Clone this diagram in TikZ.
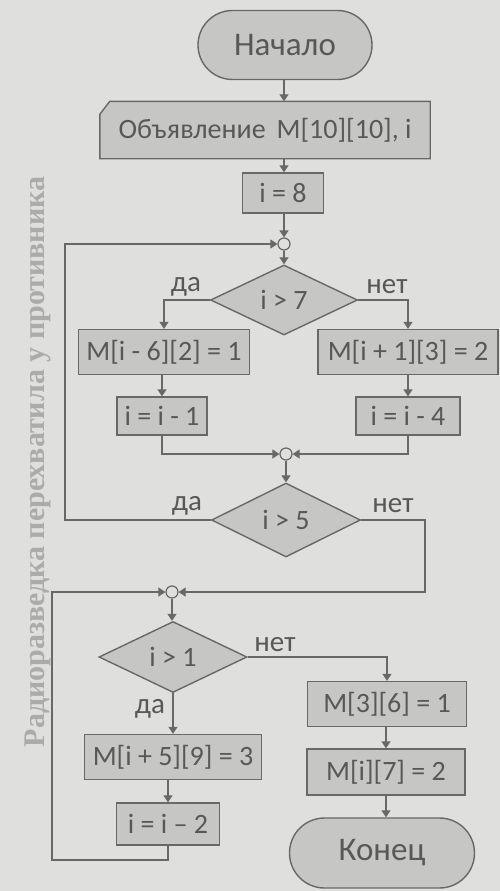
\documentclass[tikz,border=0pt]{standalone}
\usepackage{fontspec}
\setmainfont{Carlito}
\newfontfamily\sidefont{Liberation Serif}
\usetikzlibrary{arrows.meta,shapes.geometric,shapes.misc,backgrounds}
\definecolor{bgc}{HTML}{DFDFDD}
\definecolor{fillc}{HTML}{C6C6C4}
\definecolor{linec}{HTML}{686868}
\definecolor{textc}{HTML}{585858}
\definecolor{sidec}{HTML}{ABABAB}
\tikzset{
  >={Triangle[width=9pt,length=7pt]},
  base/.style={draw=linec, line width=1.4pt, fill=fillc, text=textc, inner sep=0pt,
    font=\fontsize{28}{28}\selectfont},
  procbox/.style={base, rectangle},
  termbox/.style={base, rounded rectangle, font=\fontsize{33}{33}\selectfont},
  decbox/.style={base, diamond, aspect=2.1},
  junc/.style={circle, draw=linec, line width=1.2pt, fill=bgc, minimum size=12pt, inner sep=0pt},
  conn/.style={draw=linec, line width=1.2pt},
  lbl/.style={text=textc, font=\fontsize{29}{29}\selectfont, inner sep=0pt},
}
\begin{document}
\begin{tikzpicture}[x=1pt,y=-1pt]
\begin{scope}[on background layer]
\fill[bgc] (0,0) rectangle (500,891);
\end{scope}
\useasboundingbox (0,0) rectangle (500,891);

% side text
\node[rotate=90, text=sidec, font=\sidefont\bfseries\fontsize{30}{30}\selectfont, inner sep=0pt] (side) at (38,462) {Радиоразведка перехватила у противника};

% nodes
\node[termbox, minimum width=174pt, minimum height=69pt] (start) at (285,45) {Начало};
\node[procbox, draw=none, fill=none, minimum width=329pt, minimum height=56pt] (decl) at (265,130) {Объявление\, M[10][10], i};
\begin{scope}[on background layer]
\filldraw[draw=linec, line width=1.4pt, fill=fillc]
  (decl.south west) -- ([yshift=-13pt]decl.north west) -- ([xshift=10pt]decl.north west) -- (decl.north east) -- (decl.south east) -- cycle;
\end{scope}
\node[procbox, minimum width=81pt, minimum height=40pt] (init) at (283,193) {i = 8};
\node[junc] (j1) at (284,244) {};
\node[decbox, minimum width=147pt, minimum height=70pt] (d1) at (284,300) {i > 7};
\node[procbox, minimum width=171pt, minimum height=45pt] (a1) at (164,352) {M[i - 6][2] = 1};
\node[procbox, minimum width=180pt, minimum height=45pt] (b1) at (408,352) {M[i + 1][3] = 2};
\node[procbox, minimum width=90pt, minimum height=38pt] (a2) at (162,416) {i = i - 1};
\node[procbox, minimum width=104pt, minimum height=38pt] (b2) at (408,416) {i = i - 4};
\node[junc] (j2) at (286,454) {};
\node[decbox, minimum width=149pt, minimum height=74pt] (d2) at (286,520) {i > 5};
\node[junc] (j3) at (172,592) {};
\node[decbox, minimum width=148pt, minimum height=71pt] (d3) at (173,657) {i > 1};
\node[procbox, minimum width=159pt, minimum height=45pt] (c1) at (387,704) {M[3][6] = 1};
\node[procbox, minimum width=158pt, minimum height=46pt] (c2) at (386,772) {M[i][7] = 2};
\node[termbox, minimum width=185pt, minimum height=70pt] (stop) at (382,853) {Конец};
\node[procbox, minimum width=177pt, minimum height=45pt] (e1) at (173,757) {M[i + 5][9] = 3};
\node[procbox, minimum width=103pt, minimum height=42pt] (e2) at (168,824) {i = i – 2};

% labels
\node[lbl] (l1) at (186,287) {да};
\node[lbl] (l2) at (387,287) {нет};
\node[lbl] (l3) at (187,506) {да};
\node[lbl] (l4) at (393,506) {нет};
\node[lbl] (l5) at (275,645) {нет};
\node[lbl] (l6) at (150,709) {да};

% helper coordinates
\coordinate (la) at (164,300);
\coordinate (rb) at (408,300);
\coordinate (loopL) at (65,520);
\coordinate (loopLt) at (65,244);
\coordinate (nr) at (425,520);
\coordinate (nrb) at (425,592);
\coordinate (bl) at (168,860);
\coordinate (bll) at (52,860);
\coordinate (blt) at (52,592);
\coordinate (rr) at (387,657);

% connectors
\draw[conn,->] (start.south -| 284,0) -- (284,0 |- decl.north);
\draw[conn,->] (284,0 |- decl.south) -- (284,0 |- init.north);
\draw[conn,->] (init.south -| j1) -- (j1.north);
\draw[conn,->] (j1.south) -- (d1.north);
\draw[conn,->] (d1.west) -- (la) -- (a1.north -| la);
\draw[conn,->] (d1.east) -- (rb) -- (b1.north);
\draw[conn,->] (a1.south -| a2) -- (a2.north);
\draw[conn,->] (b1.south) -- (b2.north);
\draw[conn,->] (a2.south) -- (a2.south |- j2) -- (j2.west);
\draw[conn,->] (b2.south) -- (b2.south |- j2) -- (j2.east);
\draw[conn,->] (j2.south) -- (d2.north);
\draw[conn,->] (d2.west) -- (loopL) -- (loopLt) -- (j1.west);
\draw[conn,->] (d2.east) -- (nr) -- (nrb) -- (j3.east);
\draw[conn,->] (j3.south) -- (d3.north -| j3);
\draw[conn,->] (d3.east) -- (rr) -- (c1.north -| rr);
\draw[conn,->] (c1.south -| c2) -- (c2.north);
\draw[conn,->] (c2.south) -- (c2.south |- stop.north);
\draw[conn,->] (d3.south) -- (e1.north -| d3.south);
\draw[conn,->] (e1.south -| e2) -- (e2.north);
\draw[conn,->] (e2.south) -- (bl) -- (bll) -- (blt) -- (j3.west);
\end{tikzpicture}
\end{document}
